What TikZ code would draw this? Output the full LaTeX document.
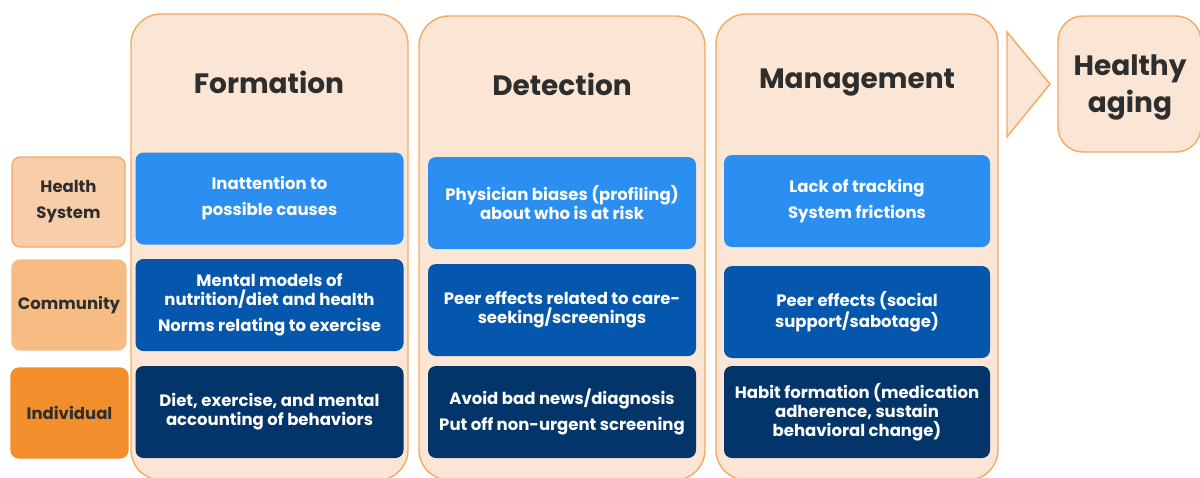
\documentclass[tikz,border=0pt]{standalone}
\usepackage{fontspec}
\setmainfont{Poppins}
\usetikzlibrary{positioning}

\definecolor{panelfill}{HTML}{FBE6D5}
\definecolor{panelline}{HTML}{F4A862}
\definecolor{hsfill}{HTML}{F8CDAA}
\definecolor{commfill}{HTML}{F6BC84}
\definecolor{indfill}{HTML}{F28E2B}
\definecolor{lightblue}{HTML}{2B8FF2}
\definecolor{midblue}{HTML}{0457AD}
\definecolor{darkblue}{HTML}{04356A}
\definecolor{inkgray}{HTML}{2E2E2E}

\begin{document}
\begin{tikzpicture}[x=0.5pt, y=-0.5pt,
	panel/.style={draw=panelline, fill=panelfill, line width=0.7pt, rounded corners=15pt, inner sep=0pt},
	title/.style={text=inkgray, font=\fontsize{14}{18.5}\selectfont\bfseries, align=center},
	cell/.style={rounded corners=4pt, text=white, align=center, inner sep=0pt, minimum width=134pt, minimum height=46pt, font=\fontsize{8.25}{9.5}\selectfont\bfseries},
	level/.style={rounded corners=4pt, draw=panelline, line width=0.6pt, text=inkgray, align=center, inner sep=0pt, minimum height=45pt, font=\fontsize{8.25}{13}\selectfont\bfseries}]

		\useasboundingbox (0,0) rectangle (1200,477);

		\node[panel, minimum width=138.5pt, minimum height=233pt] (form) at (269.5,247) {};
		\node[panel, minimum width=143pt, minimum height=232pt] (detect) at (562,248) {};
		\node[panel, minimum width=141pt, minimum height=233pt] (manage) at (857,247) {};

		\node[title] (formtitle) at (269,82) {Formation};
		\node[title] (detecttitle) at (562,84) {Detection};
		\node[title] (managetitle) at (857,83) {Management};

		\node[level, fill=hsfill, minimum width=56.5pt] (hs) at (68.5,202) {Health\\System};
		\node[level, fill=commfill, draw=commfill, minimum width=57pt] (comm) at (69,305) {Community};
		\node[level, fill=indfill, draw=indfill, minimum width=58.5pt] (ind) at (69.5,413) {Individual};

		\node[cell, fill=lightblue] (formhs) at (269.5,198.5) {Inattention to\\[3.5pt]possible causes};
		\node[cell, fill=midblue] (formcomm) at (269.5,305) {Mental models of\\nutrition/diet and health\\[3.5pt]Norms relating to exercise};
		\node[cell, fill=darkblue] (formind) at (269.5,412) {Diet, exercise, and mental\\accounting of behaviors};

		\node[cell, fill=lightblue] (detecths) at (562,203) {Physician biases (profiling)\\about who is at risk};
		\node[cell, fill=midblue] (detectcomm) at (562,310) {Peer effects related to care-\\seeking/screenings};
		\node[cell, fill=darkblue] (detectind) at (562,412) {Avoid bad news/diagnosis\\[3.5pt]Put off non-urgent screening};

		\node[cell, fill=lightblue, minimum width=133pt] (managehs) at (857,201) {Lack of tracking\\[3.5pt]System frictions};
		\node[cell, fill=midblue, minimum width=133pt] (managecomm) at (857,312) {Peer effects (social\\support/sabotage)};
		\node[cell, fill=darkblue, minimum width=133pt] (manageind) at (857,412) {Habit formation (medication\\adherence, sustain\\behavioral change)};

		\node[panel, rounded corners=12.5pt, minimum width=71.5pt, minimum height=68pt] (aging) at (1129.5,84) {};
		\node[title] (agingtitle) at (1130,87) {Healthy\\aging};

		\draw[draw=panelline, fill=panelfill, line width=0.7pt, line join=miter] (1007,32) -- (1050,84) -- (1007,137) -- cycle;

		\end{tikzpicture}
\end{document}
